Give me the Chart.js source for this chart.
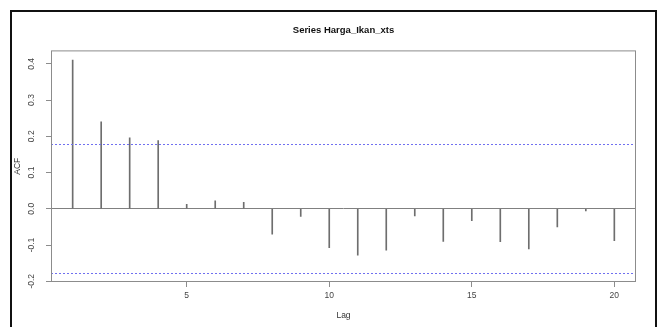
<!DOCTYPE html>
<html>
<head>
<meta charset="utf-8">
<script src="https://cdn.jsdelivr.net/npm/chart.js@4.4.0/dist/chart.umd.min.js"></script>
<style>
    html, body { margin: 0; padding: 0; background: #fff; overflow: hidden; }
    #wrap { position: relative; width: 662px; height: 327px; }
    #acfChart { position: absolute; left: 0; top: 0; }
    #frame {
        position: absolute; left: 10px; top: 10px; width: 647px; height: 400px;
        box-sizing: border-box; border: 2px solid #111; pointer-events: none;
    }
</style>
</head>
<body>
<div id="wrap">
    <canvas id="acfChart" width="662" height="327"></canvas>
    <div id="frame"></div>
</div>
<script>
const lags = [1, 2, 3, 4, 5, 6, 7, 8, 9, 10, 11, 12, 13, 14, 15, 16, 17, 18, 19, 20];
const acfValues = [0.410, 0.240, 0.196, 0.188, 0.012, 0.022, 0.018, -0.070, -0.021, -0.107,
    -0.128, -0.114, -0.020, -0.090, -0.033, -0.091, -0.111, -0.050, -0.006, -0.088];
const confLimits = [0.1785, -0.1785];
const xTickValues = [5, 10, 15, 20];
const yTickValues = [-0.2, -0.1, 0.0, 0.1, 0.2, 0.3, 0.4];

// limites dos eixos (estilo R, 4% extra)
const xMin = 0.24, xMax = 20.76;
const yMin = -0.202, yMax = 0.437;

const fontFamily = '"Liberation Sans", Arial, sans-serif';

// caixa em volta da área do gráfico + linhas de confiança
const boxPlugin = {
    id: 'plotBox',
    afterDatasetsDraw(chart) {
        const { ctx, chartArea, scales } = chart;
        ctx.save();
        ctx.strokeStyle = '#7070f0';
        ctx.lineWidth = 1;
        ctx.setLineDash([2, 2]);
        confLimits.forEach(v => {
            const y = Math.round(scales.y.getPixelForValue(v)) + 0.5;
            ctx.beginPath();
            ctx.moveTo(chartArea.left, y);
            ctx.lineTo(chartArea.right, y);
            ctx.stroke();
        });
        ctx.restore();
    },
    afterDraw(chart) {
        const { ctx, chartArea } = chart;
        ctx.save();
        ctx.strokeStyle = '#8c8c8c';
        ctx.lineWidth = 1;
        ctx.strokeRect(chartArea.left + 0.5, chartArea.top + 0.5,
            chartArea.right - chartArea.left - 1, chartArea.bottom - chartArea.top - 1);
        ctx.restore();
    }
};

const ctx = document.getElementById('acfChart').getContext('2d');
new Chart(ctx, {
    type: 'bar',
    data: {
        datasets: [{
            label: 'ACF',
            data: lags.map((l, i) => ({ x: l, y: acfValues[i] })),
            backgroundColor: '#6e6e6e',
            barThickness: 1,
            borderWidth: 0
        }]
    },
    options: {
        responsive: false,
        animation: false,
        layout: { padding: { left: 0, right: 26, top: 0, bottom: 0 } },
        plugins: {
            legend: { display: false },
            tooltip: { enabled: false },
            title: {
                display: true,
                fullSize: false,
                text: 'Series Harga_Ikan_xts',
                color: '#111',
                font: { family: fontFamily, size: 9.5, weight: 'bold', lineHeight: 1.2 },
                padding: { top: 25, bottom: 14 }
            }
        },
        scales: {
            x: {
                type: 'linear',
                min: xMin,
                max: xMax,
                offset: false,
                afterBuildTicks: scale => { scale.ticks = xTickValues.map(v => ({ value: v })); },
                afterFit: scale => { scale.height = 45; },
                grid: { offset: false, drawOnChartArea: false, drawTicks: true, tickLength: 5, tickColor: '#8c8c8c' },
                border: { display: false },
                ticks: {
                    color: '#444',
                    padding: 4,
                    maxRotation: 0,
                    font: { family: fontFamily, size: 8.5 },
                    callback: v => String(v)
                },
                title: {
                    display: true,
                    text: 'Lag',
                    color: '#333',
                    font: { family: fontFamily, size: 8.5, lineHeight: 1.2 },
                    padding: { top: 0, bottom: 6 }
                }
            },
            y: {
                type: 'linear',
                min: yMin,
                max: yMax,
                afterBuildTicks: scale => { scale.ticks = yTickValues.map(v => ({ value: v })); },
                afterFit: scale => { scale.width = 51; },
                grid: {
                    drawOnChartArea: true,
                    drawTicks: true,
                    tickLength: 5,
                    tickColor: '#8c8c8c',
                    color: c => (c.tick && Math.abs(c.tick.value) < 1e-9) ? '#808080' : 'rgba(0,0,0,0)'
                },
                border: { display: false },
                ticks: {
                    color: '#444',
                    padding: 7.5,
                    minRotation: 90,
                    maxRotation: 90,
                    crossAlign: 'center',
                    font: { family: fontFamily, size: 8.5 },
                    callback: v => v.toFixed(1)
                },
                title: {
                    display: true,
                    text: 'ACF',
                    color: '#333',
                    font: { family: fontFamily, size: 8.5, lineHeight: 1.2 },
                    padding: { top: 12.5, bottom: 0 }
                }
            }
        }
    },
    plugins: [boxPlugin]
});
</script>
</body>
</html>
